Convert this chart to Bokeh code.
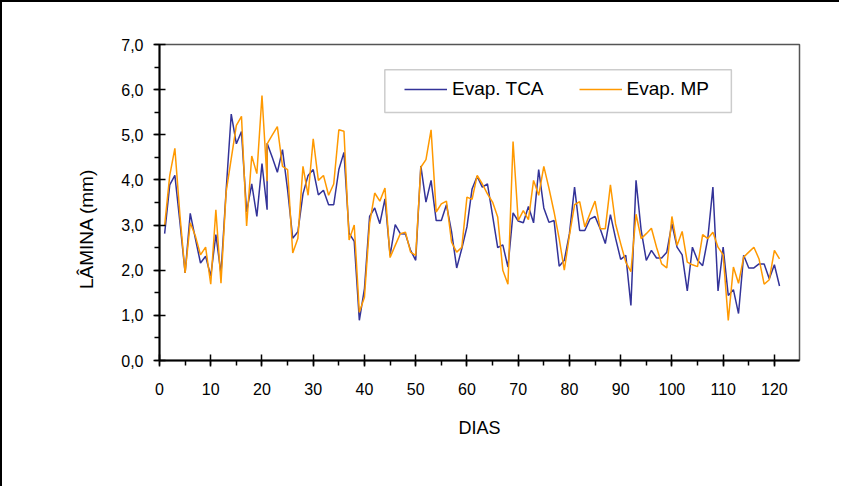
import math
from bokeh.plotting import figure
from bokeh.models import (Range1d, SingleIntervalTicker, FixedTicker, CustomJSTickFormatter,
                          Legend, LegendItem, BoxAnnotation, LinearAxis)
from bokeh.embed import file_html
from bokeh.resources import INLINE

# day 21 appears twice in the source series (sharp vertical dip)
dias = list(range(1, 22)) + list(range(21, 122))

evap_tca = [2.81, 3.89, 4.10, 3.05, 1.94, 3.26, 2.70, 2.16, 2.31, 1.87,
            2.79, 1.92, 3.76, 5.46, 4.80, 5.07, 3.29, 3.91, 3.19, 4.36,
            3.34, 4.81, 4.50, 4.17, 4.67, 3.78, 2.71, 2.85, 3.69, 4.10, 4.23,
            3.67, 3.77, 3.45, 3.45, 4.23, 4.61, 2.82, 2.64, 0.89, 1.59,
            3.19, 3.38, 3.03, 3.58, 2.33, 3.01, 2.81, 2.80, 2.44, 2.22,
            4.31, 3.51, 3.99, 3.10, 3.10, 3.45, 2.85, 2.05, 2.48, 2.96,
            3.80, 4.08, 3.84, 3.91, 3.21, 2.50, 2.56, 2.07, 3.27, 3.09,
            3.05, 3.41, 3.05, 4.23, 3.38, 3.06, 3.10, 2.09, 2.22, 2.81,
            3.84, 2.88, 2.88, 3.13, 3.19, 2.92, 2.59, 3.23, 2.71, 2.24,
            2.33, 1.22, 3.99, 2.88, 2.22, 2.44, 2.27, 2.27, 2.40, 3.03,
            2.51, 2.34, 1.54, 2.51, 2.22, 2.10, 2.70, 3.84, 1.54, 2.51,
            1.44, 1.57, 1.04, 2.33, 2.05, 2.05, 2.14, 2.14, 1.81, 2.12,
            1.65]

evap_mp = [2.99, 4.10, 4.70, 3.20, 1.94, 3.05, 2.76, 2.34, 2.51, 1.69,
           3.34, 1.71, 3.73, 4.47, 5.21, 5.41, 2.98, 4.53, 4.14, 5.87,
           3.97, 4.80, 4.99, 5.18, 4.30, 4.23, 2.38, 2.70, 4.30, 3.66, 4.91,
           3.99, 4.10, 3.66, 3.91, 5.11, 5.08, 2.67, 3.00, 1.07, 1.40,
           3.03, 3.71, 3.53, 3.82, 2.28, 2.55, 2.81, 2.84, 2.40, 2.33,
           4.28, 4.45, 5.11, 3.29, 3.47, 3.53, 2.62, 2.40, 2.51, 3.62,
           3.57, 4.10, 3.91, 3.69, 3.51, 3.18, 2.00, 1.69, 4.85, 3.10,
           3.32, 3.12, 3.99, 3.66, 4.30, 3.82, 3.29, 2.70, 2.00, 2.77,
           3.45, 3.52, 2.96, 3.25, 3.53, 2.92, 2.92, 3.89, 3.03, 2.59,
           2.18, 1.97, 3.24, 2.70, 2.81, 2.93, 2.51, 2.14, 2.05, 3.19,
           2.55, 2.86, 2.18, 2.12, 2.08, 2.79, 2.70, 2.84, 2.51, 2.34,
           0.89, 2.07, 1.71, 2.29, 2.40, 2.51, 2.25, 1.69, 1.79, 2.44,
           2.25]

series_names = ["Evap. TCA", "Evap. MP"]
series_colors = ["#333399", "#FF9900"]
x_label = "DIAS"
y_label = "LÂMINA  (mm)"

FONT = "Liberation Sans"

p = figure(width=839, height=486, output_backend="svg", toolbar_location=None,
           x_range=Range1d(0, 124.9), y_range=Range1d(0, 7),
           min_border_left=157, min_border_right=42, min_border_top=42,
           min_border_bottom=128)
p.styles = {"border-top": "2px solid black", "border-left": "2px solid black"}

p.xgrid.visible = False
p.ygrid.visible = False
p.outline_line_color = "#555555"
p.outline_line_width = 1.5
p.background_fill_color = "white"
p.border_fill_color = "white"

r1 = p.line(dias, evap_tca, line_color=series_colors[0], line_width=1.5)
r2 = p.line(dias, evap_mp, line_color=series_colors[1], line_width=1.5)

xa = p.xaxis[0]
xa.ticker = SingleIntervalTicker(interval=10, num_minor_ticks=2)
ya = p.yaxis[0]
ya.ticker = SingleIntervalTicker(interval=1, num_minor_ticks=2)
ya.formatter = CustomJSTickFormatter(code="return tick.toFixed(1).replace('.', ',');")

for ax in (xa, ya):
    ax.axis_line_color = "black"
    ax.axis_line_width = 2
    ax.major_tick_line_color = "black"
    ax.major_tick_line_width = 1.5
    ax.minor_tick_line_color = "black"
    ax.minor_tick_line_width = 1.5
    ax.major_tick_in = 6
    ax.major_tick_out = 6
    ax.minor_tick_in = 0
    ax.minor_tick_out = 5
    ax.major_label_text_font = FONT
    ax.major_label_text_font_size = "16px"
    ax.major_label_text_color = "black"

xa.major_label_standoff = 16
ya.major_label_standoff = 10

xa.axis_label = x_label
xa.axis_label_text_font = FONT
xa.axis_label_text_font_size = "18px"
xa.axis_label_text_font_style = "normal"
xa.axis_label_text_color = "black"
xa.axis_label_standoff = 20

# label-only axis; trailing no-break spaces push the centred title a little lower,
# as in the original
ylab_axis = LinearAxis(ticker=FixedTicker(ticks=[]),
                       axis_line_alpha=0, major_tick_line_alpha=0,
                       minor_tick_line_alpha=0, major_tick_in=0, major_tick_out=0,
                       minor_tick_in=0, minor_tick_out=0,
                       axis_label=y_label + "\u00a0" * 9, axis_label_standoff=22,
                       axis_label_text_font=FONT, axis_label_text_font_size="19px",
                       axis_label_text_font_style="normal",
                       axis_label_text_color="black")
p.add_layout(ylab_axis, "left")

box = BoxAnnotation(left=43.97, right=111.6, bottom=5.494, top=6.44,
                    fill_color="white", fill_alpha=1.0,
                    line_color="#555555", line_width=1.5)
p.add_layout(box)

legend = Legend(items=[LegendItem(label=series_names[0], renderers=[r1]),
                       LegendItem(label=series_names[1], renderers=[r2])],
                orientation="horizontal", location=(245, 260.5),
                border_line_alpha=0, background_fill_alpha=0,
                padding=0, margin=0, spacing=35, glyph_width=43,
                glyph_height=20, label_height=20, label_standoff=5,
                label_text_font=FONT, label_text_font_size="19px",
                label_text_color="black")
p.add_layout(legend)

open("out.html", "w").write(file_html(p, INLINE))
